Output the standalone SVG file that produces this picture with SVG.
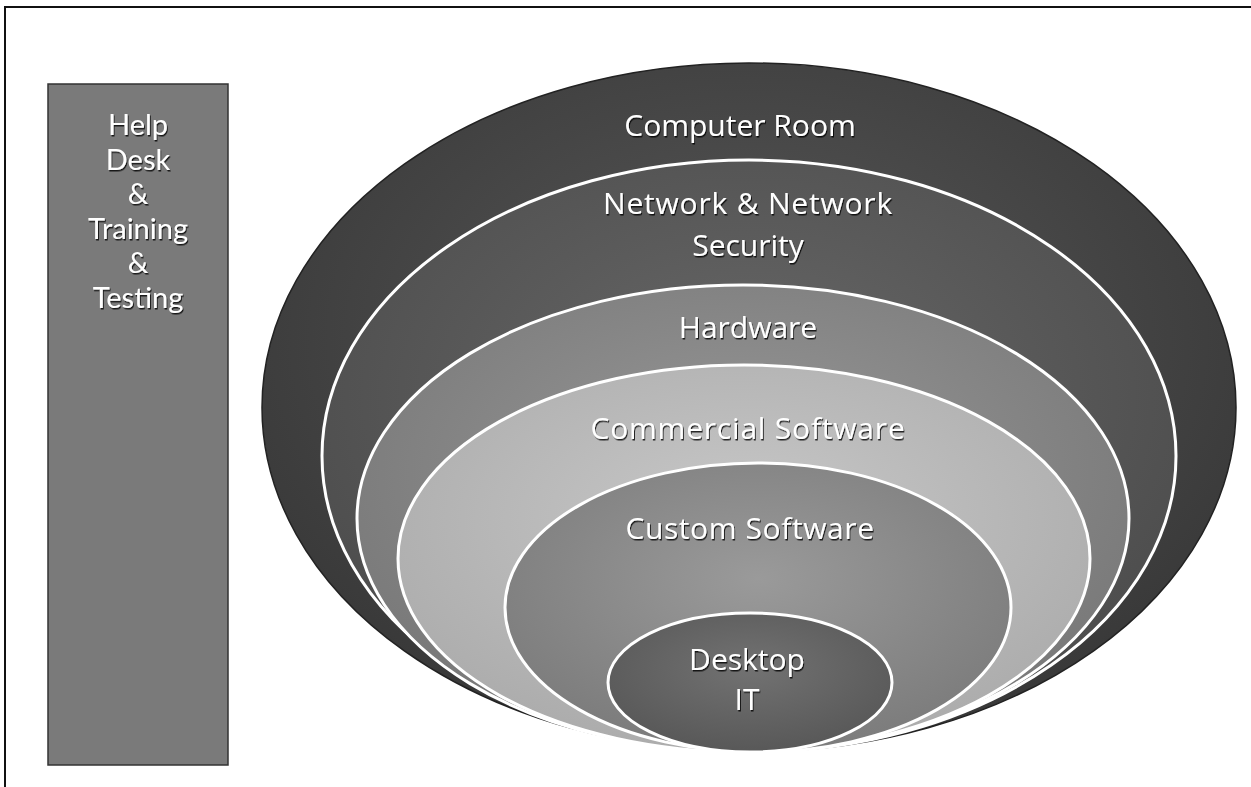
<svg xmlns="http://www.w3.org/2000/svg" width="1251" height="787" viewBox="0 0 1251 787">
<style>
.lbl{font-family:"Open Sans","Noto Sans","Liberation Sans",sans-serif;font-size:30px;fill:#ffffff;text-anchor:middle;filter:url(#sh)}
.side{font-family:Lato,"Open Sans","Liberation Sans",sans-serif;font-size:29px;fill:#ffffff;text-anchor:middle;filter:url(#sh)}
.ring{stroke:#ffffff;stroke-width:3}
</style>
<defs>
<filter id="sh" x="-10%" y="-30%" width="120%" height="160%">
<feDropShadow dx="1" dy="1.5" stdDeviation="0.6" flood-color="#000" flood-opacity="0.8"/>
</filter>
<radialGradient id="g1" cx="50%" cy="40%" r="60%"><stop offset="0" stop-color="#585858"/><stop offset="1" stop-color="#383838"/></radialGradient>
<radialGradient id="g2" cx="50%" cy="40%" r="60%"><stop offset="0" stop-color="#686868"/><stop offset="1" stop-color="#4c4c4c"/></radialGradient>
<radialGradient id="g3" cx="50%" cy="40%" r="60%"><stop offset="0" stop-color="#989898"/><stop offset="1" stop-color="#787878"/></radialGradient>
<radialGradient id="g4" cx="50%" cy="40%" r="60%"><stop offset="0" stop-color="#c8c8c8"/><stop offset="1" stop-color="#acacac"/></radialGradient>
<radialGradient id="g5" cx="50%" cy="40%" r="60%"><stop offset="0" stop-color="#9a9a9a"/><stop offset="1" stop-color="#7c7c7c"/></radialGradient>
<radialGradient id="g6" cx="50%" cy="40%" r="60%"><stop offset="0" stop-color="#727272"/><stop offset="1" stop-color="#585858"/></radialGradient>
</defs>
<rect x="0" y="0" width="1251" height="787" fill="#ffffff"/>
<path d="M5 787 V7 H1251" fill="none" stroke="#111" stroke-width="2"/>

<g id="help-desk">
<rect x="48" y="84" width="180" height="681" fill="#7a7a7a" stroke="#333" stroke-width="1.5"/>
<text class="side" x="138" y="135">Help</text>
<text class="side" x="138" y="170">Desk</text>
<text class="side" x="138" y="204">&amp;</text>
<text class="side" x="138" y="239">Training</text>
<text class="side" x="138" y="273">&amp;</text>
<text class="side" x="138" y="308">Testing</text>
</g>

<g id="computer-room">
<ellipse cx="749" cy="407.5" rx="487" ry="344.5" fill="url(#g1)" stroke="#222" stroke-width="1.5"/>
<text class="lbl" x="740" y="136">Computer Room</text>
</g>
<g id="network">
<ellipse class="ring" cx="749" cy="456" rx="427" ry="296" fill="url(#g2)"/>
<text class="lbl" x="748" y="214" letter-spacing="0.8">Network &amp; Network</text>
<text class="lbl" x="748" y="256">Security</text>
</g>
<g id="hardware">
<ellipse class="ring" cx="743" cy="518.5" rx="386" ry="233.5" fill="url(#g3)"/>
<text class="lbl" x="748" y="338">Hardware</text>
</g>
<g id="commercial-software">
<ellipse class="ring" cx="744" cy="558.5" rx="346" ry="193.5" fill="url(#g4)"/>
<text class="lbl" x="748" y="439" letter-spacing="0.8">Commercial Software</text>
</g>
<g id="custom-software">
<ellipse class="ring" cx="758" cy="607.5" rx="253" ry="144.5" fill="url(#g5)"/>
<text class="lbl" x="750" y="539" letter-spacing="0.6">Custom Software</text>
</g>
<g id="desktop-it">
<ellipse class="ring" cx="750" cy="682.5" rx="142" ry="69.5" fill="url(#g6)"/>
<text class="lbl" x="747" y="670">Desktop</text>
<text class="lbl" x="747" y="710">IT</text>
</g>
<g id="connectors"></g>
</svg>
